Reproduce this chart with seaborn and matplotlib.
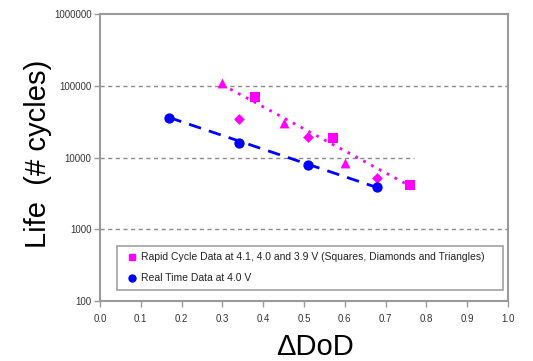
import matplotlib
matplotlib.use("Agg")
import matplotlib.pyplot as plt
from matplotlib.lines import Line2D
from matplotlib.ticker import FixedLocator, FixedFormatter
import seaborn as sns
import pandas as pd

# ---- data ----
square_x = [0.38, 0.57, 0.76]
square_y = [70000, 18500, 4200]
diamond_x = [0.34, 0.51, 0.68]
diamond_y = [34000, 19300, 5100]
triangle_x = [0.30, 0.45, 0.60]
triangle_y = [110000, 30600, 8500]
real_x = [0.17, 0.34, 0.51, 0.68]
real_y = [35500, 16000, 7850, 3850]

rapid_trend_x = [0.30, 0.76]
rapid_trend_y = [103000, 4000]
real_trend_x = [0.17, 0.68]
real_trend_y = [36000, 3800]

y_ticks = [100, 1000, 10000, 100000, 1000000]
y_tick_labels = ["100", "1000", "10000", "100000", "1000000"]
x_ticks = [0.0, 0.1, 0.2, 0.3, 0.4, 0.5, 0.6, 0.7, 0.8, 0.9, 1.0]
x_tick_labels = ["0.0", "0.1", "0.2", "0.3", "0.4", "0.5", "0.6", "0.7", "0.8", "0.9", "1.0"]

legend_labels = ["Rapid Cycle Data at 4.1, 4.0 and 3.9 V (Squares, Diamonds and Triangles)",
                 "Real Time Data at 4.0 V"]
x_label = "\u0394DoD"
y_label = "Life  (# cycles)"

MAG = "#FF00FF"
BLUE = "#0000FF"

sns.set_theme(style="white")
plt.rcParams["font.family"] = ["Liberation Sans", "DejaVu Sans"]

fig = plt.figure(figsize=(5.33, 3.61), dpi=100)
ax = fig.add_axes([0.1876, 0.1662, 0.7655, 0.795])

# trend lines
sns.lineplot(x=rapid_trend_x, y=rapid_trend_y, ax=ax, color=MAG, lw=2,
             linestyle=(0, (1, 2.2)), zorder=2)
sns.lineplot(x=real_trend_x, y=real_trend_y, ax=ax, color=BLUE, lw=2,
             linestyle=(0, (4.5, 3)), zorder=2)

# markers
sns.scatterplot(x=square_x, y=square_y, ax=ax, marker="s", s=55, color=MAG,
                edgecolor=MAG, linewidth=0, zorder=3)
sns.scatterplot(x=diamond_x, y=diamond_y, ax=ax, marker="D", s=30, color=MAG,
                edgecolor=MAG, linewidth=0, zorder=3)
sns.scatterplot(x=triangle_x, y=triangle_y, ax=ax, marker="^", s=50, color=MAG,
                edgecolor=MAG, linewidth=0, zorder=3)
sns.scatterplot(x=real_x, y=real_y, ax=ax, marker="o", s=55, color=BLUE,
                edgecolor=BLUE, linewidth=0, zorder=3)

ax.set_yscale("log")
ax.set_xlim(0, 1)
ax.set_ylim(100, 1000000)
ax.yaxis.set_major_locator(FixedLocator(y_ticks))
ax.yaxis.set_major_formatter(FixedFormatter(y_tick_labels))
ax.yaxis.set_minor_locator(FixedLocator([]))
ax.xaxis.set_major_locator(FixedLocator(x_ticks))
ax.xaxis.set_major_formatter(FixedFormatter(x_tick_labels))

# gridlines
grid_kw = dict(color="#8a8a8a", lw=1, linestyle=(0, (3, 2.5)), zorder=1)
ax.axhline(100000, **grid_kw)
ax.axhline(10000, xmax=0.77, **grid_kw)
ax.axhline(1000, **grid_kw)

for s in ax.spines.values():
    s.set_color("#9a9a9a")
    s.set_linewidth(1.5)

ax.tick_params(axis="both", which="major", direction="out", length=4, width=1,
               color="#9a9a9a", labelsize=7, labelcolor="#333333", pad=2,
               bottom=True, left=True)
ax.tick_params(axis="x", pad=5)

handles = [Line2D([], [], marker="s", color=MAG, linestyle="none", markersize=5),
           Line2D([], [], marker="o", color=BLUE, linestyle="none", markersize=5)]
leg = ax.legend(handles, legend_labels, loc="lower left",
                bbox_to_anchor=(0.042, 0.038, 0.946, 0.15), mode="expand",
                fontsize=7.5, frameon=True, fancybox=False, handlelength=1.55,
                handletextpad=0.1, labelspacing=1.05, borderpad=0.65,
                borderaxespad=0)
leg.get_frame().set_edgecolor("#8a8a8a")
leg.get_frame().set_linewidth(1.2)
for t in leg.get_texts():
    t.set_color("#222222")

ax.set_xlabel("")
ax.set_ylabel("")
fig.text(38 / 533, 1 - 154 / 361, y_label, rotation=90, ha="center", va="center",
         fontsize=21, color="black")
fig.text(315 / 533, 1 - 347 / 361, x_label, ha="center", va="center",
         fontsize=21, color="black")

fig.savefig("out.png", dpi=100)
